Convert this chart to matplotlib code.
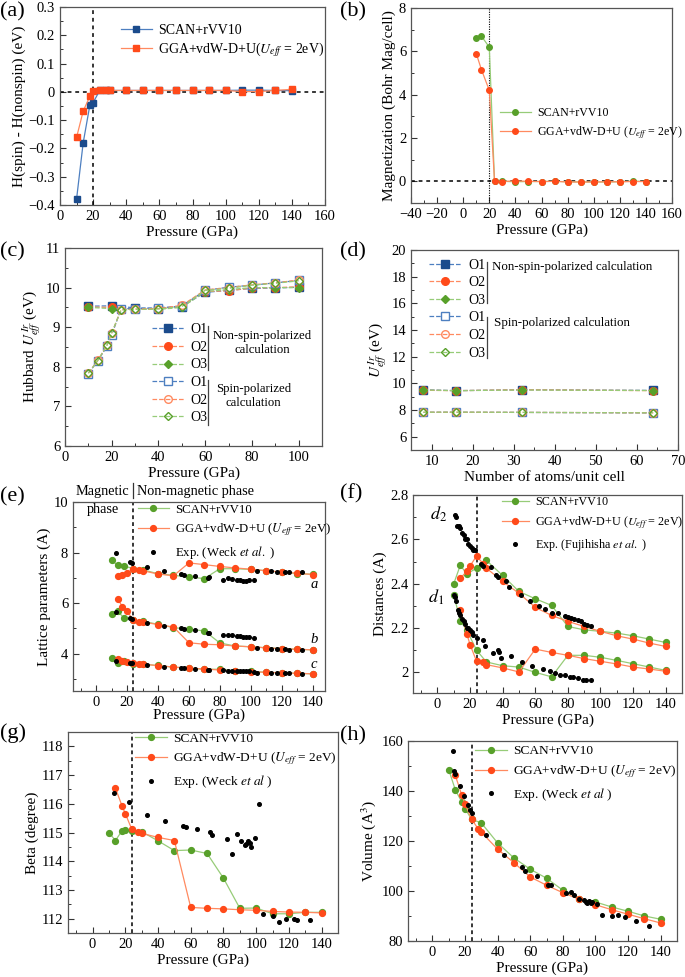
import matplotlib
matplotlib.use("Agg")
import matplotlib.pyplot as plt
from matplotlib.ticker import MultipleLocator, FuncFormatter
import matplotlib.transforms as mtrans

plt.rcParams['font.family'] = ['Liberation Serif', 'DejaVu Serif']
plt.rcParams['font.weight'] = 'normal'
plt.rcParams['axes.labelweight'] = 'normal'
plt.rcParams['mathtext.fontset'] = 'stix'

# ---------------- data ----------------
# (a)
a_P_scan = [10, 14, 18, 20, 24, 28, 30, 40, 50, 60, 70, 80, 90, 100, 110, 120, 130, 140]
a_scan = [-0.379, -0.18, -0.048, -0.038, 0.005, 0.005, 0.005, 0.005, 0.005, 0.005, 0.005, 0.005, 0.005, 0.005, 0.006, 0.006, 0.005, 0.004]
a_P_gga = [10, 14, 18, 20, 24, 28, 30, 40, 50, 60, 70, 80, 90, 100, 110, 120, 130, 140]
a_gga = [-0.161, -0.068, -0.016, 0.002, 0.005, 0.005, 0.005, 0.005, 0.005, 0.005, 0.005, 0.005, 0.005, 0.005, 0.001, 0.001, 0.005, 0.009]

# (b)
b_P = [10, 14, 20, 24, 30, 40, 50, 60, 70, 80, 90, 100, 110, 120, 130, 140]
b_scan = [6.62, 6.70, 6.19, 0.0, 0.0, -0.02, -0.01, -0.01, 0.0, -0.02, -0.03, -0.03, -0.03, -0.02, 0.01, -0.01]
b_gga = [5.90, 5.15, 4.20, 0.0, -0.01, 0.02, 0.0, -0.01, 0.0, -0.03, -0.03, -0.03, -0.02, -0.02, -0.01, -0.01]

# (c)
c_P_ns = [10, 20, 30, 40, 50, 60, 70, 80, 90, 100]
c_O1_ns = [9.53, 9.54, 9.49, 9.47, 9.52, 9.88, 9.93, 9.98, 9.99, 10.01]
c_O2_ns = [9.51, 9.50, 9.45, 9.46, 9.53, 9.90, 9.92, 9.99, 10.00, 10.02]
c_O3_ns = [9.50, 9.47, 9.46, 9.45, 9.50, 9.90, 9.95, 10.00, 10.00, 10.00]
c_P_sp = [10, 14, 18, 20, 24, 30, 40, 50, 60, 70, 80, 90, 100]
c_O1_sp = [7.83, 8.15, 8.52, 8.80, 9.47, 9.47, 9.49, 9.53, 9.93, 10.01, 10.06, 10.12, 10.18]
c_O2_sp = [7.84, 8.16, 8.55, 8.85, 9.44, 9.46, 9.47, 9.55, 9.94, 10.00, 10.07, 10.12, 10.19]
c_O3_sp = [7.84, 8.15, 8.55, 8.86, 9.43, 9.45, 9.46, 9.52, 9.93, 9.98, 10.06, 10.11, 10.17]

# (d)
d_N = [8, 16, 32, 64]
d_O1_ns = [9.52, 9.45, 9.52, 9.47]
d_O2_ns = [9.48, 9.45, 9.52, 9.45]
d_O3_ns = [9.50, 9.45, 9.50, 9.46]
d_O1_sp = [7.83, 7.83, 7.82, 7.78]
d_O2_sp = [7.83, 7.83, 7.82, 7.79]
d_O3_sp = [7.83, 7.84, 7.82, 7.79]

# (e)
e_P_scan = [10, 14, 18, 24, 30, 40, 50, 60, 70, 80, 90, 100, 110, 120, 130, 140]
e_a_scan = [7.69, 7.49, 7.47, 7.36, 7.32, 7.16, 7.10, 7.03, 6.97, 7.36, 7.36, 7.33, 7.28, 7.22, 7.17, 7.14]
e_b_scan = [5.58, 5.67, 5.41, 5.32, 5.28, 5.16, 5.03, 4.96, 4.90, 4.42, 4.30, 4.27, 4.23, 4.20, 4.17, 4.15]
e_c_scan = [3.84, 3.63, 3.70, 3.60, 3.58, 3.53, 3.46, 3.43, 3.38, 3.38, 3.32, 3.30, 3.26, 3.24, 3.22, 3.20]
e_P_gga = [14, 17, 20, 24, 28, 30, 40, 50, 60, 70, 80, 90, 100, 110, 120, 130, 140]
e_a_gga = [7.07, 7.13, 7.19, 7.36, 7.30, 7.28, 7.15, 7.08, 7.59, 7.52, 7.45, 7.39, 7.34, 7.28, 7.23, 7.18, 7.13]
e_b_gga = [6.16, 5.85, 5.67, 5.34, 5.27, 5.25, 5.15, 5.05, 4.43, 4.37, 4.35, 4.30, 4.27, 4.23, 4.19, 4.17, 4.15]
e_c_gga = [3.79, 3.72, 3.68, 3.63, 3.60, 3.59, 3.52, 3.47, 3.42, 3.39, 3.35, 3.31, 3.28, 3.26, 3.24, 3.22, 3.20]
e_P_exp = [13, 22, 23, 33, 44, 55, 57, 64, 72, 73, 82, 85, 88, 91, 93, 95, 97, 99, 102, 104, 113, 117, 122, 125, 133]
e_a_exp = [7.98, 7.63, 7.57, 7.41, 7.26, 7.15, 7.12, 7.08, 7.00, 7.02, 6.93, 6.98, 6.97, 6.90, 6.90, 6.88, 6.89, 6.90, 6.91, 7.27, 7.27, 7.24, 7.22, 7.22, 7.21]
e_b_exp = [5.64, 5.42, 5.38, 5.21, 5.08, 5.00, 4.98, 4.95, 4.83, 4.83, 4.75, 4.73, 4.72, 4.70, 4.68, 4.67, 4.67, 4.66, 4.61, 4.21, 4.19, 4.17, 4.17, 4.15, 4.14]
e_c_exp = [3.69, 3.63, 3.62, 3.55, 3.48, 3.43, 3.42, 3.40, 3.37, 3.36, 3.34, 3.33, 3.33, 3.31, 3.30, 3.30, 3.31, 3.30, 3.27, 3.25, 3.24, 3.23, 3.23, 3.22, 3.21]

# (f)
f_P_scan = [10, 14, 18, 24, 30, 40, 50, 60, 70, 80, 90, 100, 110, 120, 130, 140]
f_d2_scan = [2.40, 2.483, 2.444, 2.47, 2.505, 2.437, 2.365, 2.332, 2.302, 2.207, 2.192, 2.185, 2.177, 2.165, 2.15, 2.135]
f_d1_scan = [2.35, 2.233, 2.19, 2.10, 2.047, 2.03, 2.024, 2.00, 1.98, 2.077, 2.077, 2.068, 2.054, 2.039, 2.024, 2.009]
f_P_gga = [14, 18, 20, 24, 28, 30, 40, 50, 60, 70, 80, 90, 100, 110, 120, 130, 140]
f_d2_gga = [2.425, 2.455, 2.48, 2.525, 2.49, 2.47, 2.41, 2.357, 2.293, 2.257, 2.23, 2.207, 2.185, 2.165, 2.15, 2.132, 2.117]
f_d1_gga = [2.282, 2.174, 2.125, 2.05, 2.045, 2.035, 2.02, 2.002, 2.105, 2.09, 2.077, 2.062, 2.05, 2.038, 2.024, 2.015, 2.005]
f_P_exp_d2 = [10.5, 11.5, 12, 13, 14, 15, 16, 17, 18, 19, 20, 21, 22, 23,
              27, 28, 33, 36, 37, 42, 44, 51, 57, 62, 66, 70, 74, 78, 80, 82, 84, 86, 88, 90, 92, 94]
f_d2_exp = [2.71, 2.70, 2.66, 2.66, 2.65, 2.63, 2.62, 2.60, 2.60, 2.58, 2.57, 2.56, 2.55, 2.55,
            2.49, 2.48, 2.475, 2.44, 2.43, 2.41, 2.383, 2.35, 2.32, 2.30, 2.285, 2.27, 2.267, 2.255, 2.25, 2.245, 2.24, 2.235, 2.23, 2.22, 2.215, 2.21]
f_P_exp_d1 = [10, 11, 11.5, 12.5, 13, 14, 15, 16, 17, 18, 19, 20, 21, 22,
              24, 28, 29, 34, 37, 38, 39, 45, 52, 58, 65, 69, 72, 75, 78, 81, 83, 86, 89, 91, 94]
f_d1_exp = [2.35, 2.34, 2.32, 2.28, 2.27, 2.26, 2.24, 2.23, 2.22, 2.20, 2.20, 2.19, 2.18, 2.17,
            2.154, 2.145, 2.12, 2.087, 2.10, 2.09, 2.065, 2.075, 2.045, 2.03, 2.015, 2.005, 1.995, 1.99, 1.99, 1.98, 1.98, 1.975, 1.965, 1.965, 1.967]

# (g)
g_P_scan = [10, 14, 18, 20, 24, 30, 40, 50, 60, 70, 80, 90, 100, 110, 120, 130, 140]
g_scan = [115.0, 114.72, 115.06, 115.08, 115.05, 115.03, 114.71, 114.37, 114.39, 114.27, 113.41, 112.36, 112.37, 112.17, 112.17, 112.22, 112.22]
g_P_gga = [14, 18, 20, 24, 28, 30, 40, 50, 60, 70, 80, 90, 100, 110, 120, 130, 140]
g_gga = [116.54, 115.93, 115.66, 115.11, 115.03, 114.97, 114.83, 114.72, 112.39, 112.36, 112.34, 112.31, 112.29, 112.25, 112.23, 112.22, 112.20]
g_P_exp = [13, 22, 33, 44, 55, 57, 64, 72, 73, 82, 85, 88, 91, 93, 94, 95, 96, 97, 99, 102, 104, 110, 114, 118, 123, 125, 133]
g_exp = [116.36, 116.05, 115.6, 115.41, 115.22, 115.18, 115.12, 115.02, 114.9, 114.76, 114.25, 114.95, 114.7, 114.55, 114.6, 114.7, 114.65, 114.5, 114.82, 116.0, 112.17, 112.1, 111.88, 112.0, 112.0, 111.97, 111.95]

# (h)
h_P_scan = [10, 14, 18, 20, 24, 30, 40, 50, 60, 70, 80, 90, 100, 110, 120, 130, 140]
h_scan = [148.5, 140.5, 135.6, 132.9, 128.7, 127.2, 119.2, 113.2, 108.7, 105.1, 100.3, 96.7, 95.6, 93.6, 91.9, 90.0, 88.7]
h_P_gga = [14, 18, 20, 24, 28, 30, 40, 50, 60, 70, 80, 90, 100, 110, 120, 130, 140]
h_gga = [146.3, 138.3, 134.9, 128.7, 124.9, 123.5, 116.7, 111.3, 105.6, 102.3, 99.3, 96.7, 94.5, 92.5, 90.7, 88.9, 87.2]
h_P_exp = [12.5, 13, 14, 17, 19.5, 22, 23, 24, 33, 44, 55, 57, 64, 71, 73, 82, 85, 87, 90, 93, 94, 95, 96, 97, 98, 101, 104, 110, 114, 118, 125, 133]
h_exp = [156.0, 148.0, 147.0, 142.0, 138.0, 134.3, 132.3, 131.2, 122.3, 114.4, 109.6, 107.9, 106.0, 102.5, 102.5, 99.3, 99.5, 98.3, 97.0, 96.5, 95.5, 95.2, 96.0, 95.2, 95.5, 95.0, 90.5, 90.2, 90.4, 89.6, 88.2, 86.0]

# ---------------- style ----------------
NAVY, NAVY_L = '#1b4b8c', '#4d7fc0'
RED, RED_L = '#ff4a1a', '#ff8a60'
GRN, GRN_L = '#58a02a', '#97cc78'
SPINE = '#555555'

W, H = 685, 977
fig = plt.figure(figsize=(W / 100, H / 100), dpi=100)


def ax_px(l, r, t, b):
    ax = fig.add_axes([l / W, 1 - b / H, (r - l) / W, (b - t) / H])
    for s in ax.spines.values():
        s.set_color(SPINE)
        s.set_linewidth(0.9)
    ax.tick_params(which='both', direction='in', colors='#333333', labelsize=10.5,
                   top=False, right=False, labelcolor='black')
    ax.tick_params(which='major', length=4, width=0.8)
    ax.tick_params(which='minor', length=2.2, width=0.7)
    return ax


gfmt = FuncFormatter(lambda v, p: ('%g' % round(v, 6)).replace('-', '\u2212'))


def set_ticks(ax, xmaj, xmin, ymaj, ymin):
    ax.xaxis.set_major_locator(MultipleLocator(xmaj))
    ax.xaxis.set_minor_locator(MultipleLocator(xmin))
    ax.yaxis.set_major_locator(MultipleLocator(ymaj))
    ax.yaxis.set_minor_locator(MultipleLocator(ymin))
    ax.xaxis.set_major_formatter(gfmt)
    ax.yaxis.set_major_formatter(gfmt)


def series(ax, x, y, mc, lc, marker='o', ms=4.2, label=None, z=3):
    ax.plot(x, y, color=lc, lw=0.9, marker=marker, ms=ms, mfc=mc, mec=mc, label=label, zorder=z)


def exp_series(ax, x, y, label=None):
    ax.plot(x, y, ls='none', marker='o', ms=2.6, color='black', label=label, zorder=4)


def legend(ax, x, y, fs=9.5, hl=2.2, spacing=0.3):
    leg = ax.legend(loc='upper left', bbox_to_anchor=(x, y), frameon=False, fontsize=fs,
                    handlelength=hl, handletextpad=0.5, borderpad=0, borderaxespad=0,
                    labelspacing=spacing, numpoints=1)
    return leg


UEFF = r'GGA+vdW-D+U ($U_{eff}$ = 2eV)'
LBL = 11
PL = 16

# ---------------- (a) ----------------
ax = ax_px(60, 325, 7, 205)
series(ax, a_P_scan, a_scan, NAVY, NAVY_L, marker='s', ms=4, label='SCAN+rVV10', z=3)
series(ax, a_P_gga, a_gga, RED, RED_L, marker='s', ms=4, label=r'GGA+vdW-D+U($U_{eff}$ = 2eV)', z=4)
ax.axvline(20, color='black', ls=(0, (2.5, 2.5)), lw=1.1, zorder=2)
ax.axhline(0, color='black', ls=(0, (2.5, 2.5)), lw=1.1, zorder=2)
ax.set_xlim(0, 160)
ax.set_ylim(-0.4, 0.3)
set_ticks(ax, 20, 10, 0.1, 0.05)
ax.set_xlabel('Pressure (GPa)', fontsize=LBL, labelpad=2)
ax.set_ylabel('H(spin) - H(nonspin) (eV)', fontsize=LBL, labelpad=2)
legend(ax, 0.23, 0.915, fs=10, hl=2.2, spacing=0.25)

# ---------------- (b) ----------------
ax = ax_px(411, 672, 8, 203)
series(ax, b_P, b_scan, GRN, GRN_L, marker='o', ms=4, label='SCAN+rVV10', z=3)
series(ax, b_P, b_gga, RED, RED_L, marker='o', ms=4, label=UEFF, z=4)
ax.axvline(20, color='black', ls=(0, (1, 1.2)), lw=0.8, zorder=2)
ax.axhline(0, color='black', ls=(0, (2.5, 2.5)), lw=1.1, zorder=2)
ax.set_xlim(-40, 160)
ax.set_ylim(-1, 8)
set_ticks(ax, 20, 10, 2, 1)
ax.set_xlabel('Pressure (GPa)', fontsize=LBL, labelpad=2)
ax.set_ylabel('Magnetization (Bohr Mag/cell)', fontsize=LBL, labelpad=2)
legend(ax, 0.34, 0.49, fs=8.6, hl=2.6, spacing=0.35)

# ---------------- (c) ----------------
ax = ax_px(65, 322, 248, 446)
ax.plot(c_P_ns, c_O1_ns, ls='--', lw=0.9, color=NAVY_L, marker='s', ms=5.5, mfc=NAVY, mec=NAVY, label='O1', zorder=3)
ax.plot(c_P_ns, c_O2_ns, ls='--', lw=0.9, color=RED_L, marker='o', ms=5.5, mfc=RED, mec=RED, label='O2', zorder=3)
ax.plot(c_P_ns, c_O3_ns, ls='--', lw=0.9, color=GRN_L, marker='D', ms=3.8, mfc=GRN, mec=GRN, label='O3', zorder=3)
ax.plot(c_P_sp, c_O1_sp, ls='--', lw=0.9, color=NAVY_L, marker='s', ms=5.5, mfc='white', mec=NAVY_L, label='O1', zorder=4)
ax.plot(c_P_sp, c_O2_sp, ls='--', lw=0.9, color=RED_L, marker='o', ms=5.5, mfc='none', mec=RED_L, label='O2', zorder=4)
ax.plot(c_P_sp, c_O3_sp, ls='--', lw=0.9, color=GRN_L, marker='D', ms=4, mfc='none', mec=GRN, label='O3', zorder=4)
ax.set_xlim(0, 110)
ax.set_ylim(6, 11)
set_ticks(ax, 20, 10, 1, 0.5)
ax.set_xlabel('Pressure (GPa)', fontsize=LBL, labelpad=2)
ax.set_ylabel(r'Hubbard $U_{eff}^{\,Ir}$ (eV)', fontsize=LBL, labelpad=2)
legend(ax, 0.338, 0.62, fs=10, hl=2.3, spacing=0.33)
ax.plot([0.558, 0.558], [0.383, 0.606], transform=ax.transAxes, color='#444444', lw=0.9)
ax.plot([0.558, 0.558], [0.108, 0.333], transform=ax.transAxes, color='#444444', lw=0.9)
ax.text(0.766, 0.52, 'Non-spin-polarized\ncalculation', transform=ax.transAxes, ha='center', va='center',
        fontsize=9.2, linespacing=1.25)
ax.text(0.734, 0.252, 'Spin-polarized\ncalculation', transform=ax.transAxes, ha='center', va='center',
        fontsize=9.2, linespacing=1.25)

# ---------------- (d) ----------------
ax = ax_px(411, 678, 250, 450)
ax.plot(d_N, d_O1_ns, ls='--', lw=0.9, color=NAVY_L, marker='s', ms=5.5, mfc=NAVY, mec=NAVY, label='O1', zorder=3)
ax.plot(d_N, d_O2_ns, ls='--', lw=0.9, color=RED_L, marker='o', ms=5.5, mfc=RED, mec=RED, label='O2', zorder=3)
ax.plot(d_N, d_O3_ns, ls='--', lw=0.9, color=GRN_L, marker='D', ms=3.8, mfc=GRN, mec=GRN, label='O3', zorder=3)
ax.plot(d_N, d_O1_sp, ls='--', lw=0.9, color=NAVY_L, marker='s', ms=5.5, mfc='white', mec=NAVY_L, label='O1', zorder=4)
ax.plot(d_N, d_O2_sp, ls='--', lw=0.9, color=RED_L, marker='o', ms=5.5, mfc='none', mec=RED_L, label='O2', zorder=4)
ax.plot(d_N, d_O3_sp, ls='--', lw=0.9, color=GRN_L, marker='D', ms=4, mfc='none', mec=GRN, label='O3', zorder=4)
ax.set_xlim(5, 70)
ax.set_ylim(5, 20)
set_ticks(ax, 10, 5, 2, 1)
ax.set_xlabel('Number of atoms/unit cell', fontsize=LBL, labelpad=2)
ax.set_ylabel(r'$U_{eff}^{\,Ir}$ (eV)', fontsize=LBL, labelpad=2)
legend(ax, 0.069, 0.957, fs=10, hl=2.3, spacing=0.33)
ax.plot([0.283, 0.283], [0.733, 0.942], transform=ax.transAxes, color='#444444', lw=0.9)
ax.plot([0.283, 0.283], [0.458, 0.663], transform=ax.transAxes, color='#444444', lw=0.9)
ax.text(0.305, 0.913, 'Non-spin-polarized calculation', transform=ax.transAxes, ha='left', va='center', fontsize=9.4)
ax.text(0.312, 0.633, 'Spin-polarized calculation', transform=ax.transAxes, ha='left', va='center', fontsize=9.4)

# ---------------- (e) ----------------
ax = ax_px(73, 325, 502, 691)
series(ax, e_P_scan, e_a_scan, GRN, GRN_L, label='SCAN+rVV10', z=3)
series(ax, e_P_gga, e_a_gga, RED, RED_L, label=UEFF, z=4)
exp_series(ax, e_P_exp, e_a_exp, label=r'Exp. (Weck $et\ al.$ )')
series(ax, e_P_scan, e_b_scan, GRN, GRN_L, z=3)
series(ax, e_P_gga, e_b_gga, RED, RED_L, z=4)
exp_series(ax, e_P_exp, e_b_exp)
series(ax, e_P_scan, e_c_scan, GRN, GRN_L, z=3)
series(ax, e_P_gga, e_c_gga, RED, RED_L, z=4)
exp_series(ax, e_P_exp, e_c_exp)
ax.axvline(24, color='black', ls=(0, (2.5, 2)), lw=1.1, zorder=2)
ax.set_xlim(-15, 148)
ax.set_ylim(2.52, 10)
set_ticks(ax, 20, 10, 2, 1)
ax.set_xlabel('Pressure (GPa)', fontsize=LBL, labelpad=0)
ax.set_ylabel('Lattice parameters (A)', fontsize=LBL, labelpad=2)
legend(ax, 0.258, 0.99, fs=9.2, hl=2.4, spacing=0.45)
for lab, yy in (('a', 6.74), ('b', 4.55), ('c', 3.56)):
    ax.text(141, yy, lab, fontsize=10.5, style='italic', ha='center', va='center')
bt = mtrans.blended_transform_factory(ax.transData, ax.transAxes)
ax.text(4.3, 1.055, 'Magnetic', transform=bt, ha='center', va='center', fontsize=10.3)
ax.text(4.3, 0.96, 'phase', transform=bt, ha='center', va='center', fontsize=10.3)
ax.text(26.5, 1.055, 'Non-magnetic phase', transform=bt, ha='left', va='center', fontsize=10.3)
ax.plot([23.7, 23.7], [1.02, 1.1], transform=bt, color='#333333', lw=0.9, clip_on=False)

# ---------------- (f) ----------------
ax = ax_px(413, 682, 495, 693)
series(ax, f_P_scan, f_d2_scan, GRN, GRN_L, label='SCAN+rVV10', z=3)
series(ax, f_P_gga, f_d2_gga, RED, RED_L, label=UEFF, z=4)
exp_series(ax, f_P_exp_d2, f_d2_exp, label=r'Exp. (Fujihisha $et\ al.$ )')
series(ax, f_P_scan, f_d1_scan, GRN, GRN_L, z=3)
series(ax, f_P_gga, f_d1_gga, RED, RED_L, z=4)
exp_series(ax, f_P_exp_d1, f_d1_exp)
ax.axvline(24, color='black', ls=(0, (2.5, 2)), lw=1.1, zorder=2)
ax.set_xlim(-15, 150)
ax.set_ylim(1.907, 2.8)
set_ticks(ax, 20, 10, 0.2, 0.1)
ax.set_xlabel('Pressure (GPa)', fontsize=LBL, labelpad=2)
ax.set_ylabel('Distances (A)', fontsize=LBL, labelpad=2)
legend(ax, 0.329, 0.995, fs=8.7, hl=2.3, spacing=0.5)
ax.text(0.5, 2.715, r'$d_2$', fontsize=13, ha='center', va='center')
ax.text(-1.0, 2.34, r'$d_1$', fontsize=13, ha='center', va='center')

# ---------------- (g) ----------------
ax = ax_px(68, 338, 732, 933)
series(ax, g_P_scan, g_scan, GRN, GRN_L, label='SCAN+rVV10', z=3)
series(ax, g_P_gga, g_gga, RED, RED_L, label=UEFF, z=4)
exp_series(ax, g_P_exp, g_exp, label=r'Exp. (Weck $et\ al$ )')
ax.axvline(24, color='black', ls=(0, (2.5, 2)), lw=1.1, zorder=2)
ax.set_xlim(-15, 150)
ax.set_ylim(111.5, 118.5)
set_ticks(ax, 20, 10, 1, 0.5)
ax.set_xlabel('Pressure (GPa)', fontsize=LBL, labelpad=2)
ax.set_ylabel('Beta (degree)', fontsize=LBL, labelpad=2)
legend(ax, 0.247, 0.998, fs=9.6, hl=2.4, spacing=0.45)

# ---------------- (h) ----------------
ax = ax_px(408, 677, 741, 941)
series(ax, h_P_scan, h_scan, GRN, GRN_L, label='SCAN+rVV10', z=3)
series(ax, h_P_gga, h_gga, RED, RED_L, label=UEFF, z=4)
exp_series(ax, h_P_exp, h_exp, label=r'Exp. (Weck $et\ al$ )')
ax.axvline(24, color='black', ls=(0, (2.5, 2)), lw=1.1, zorder=2)
ax.set_xlim(-15, 150)
ax.set_ylim(80, 160)
set_ticks(ax, 20, 10, 20, 10)
ax.set_xlabel('Pressure (GPa)', fontsize=LBL, labelpad=2)
ax.set_ylabel(r'Volume (A$^3$)', fontsize=LBL, labelpad=2)
legend(ax, 0.248, 0.98, fs=9.6, hl=2.4, spacing=0.45)

# ---------------- panel labels ----------------
for lab, x, y in (('(a)', 0, 12), ('(b)', 340, 12), ('(c)', 0, 252), ('(d)', 340, 252),
                  ('(e)', 0, 497), ('(f)', 340, 494), ('(g)', 0, 733), ('(h)', 340, 736)):
    fig.text(x / W, 1 - y / H, lab, fontsize=PL, ha='left', va='center')

fig.savefig('out.png', dpi=100)
